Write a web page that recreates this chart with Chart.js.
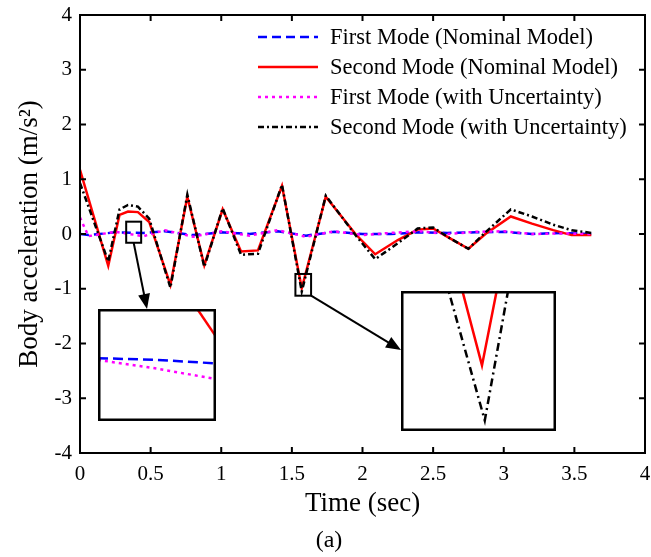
<!DOCTYPE html>
<html>
<head>
<meta charset="utf-8">
<script src="https://cdn.jsdelivr.net/npm/chart.js@4"></script>
<style>
  body { margin: 0; background: #fff; }
  #wrap { position: relative; width: 651px; height: 557px; }
  #mainBox { position: absolute; left: 0; top: 0; width: 651px; height: 557px; }
  .inset { position: absolute; background: #fff; }
</style>
</head>
<body>
<div id="wrap">
  <div id="mainBox"><canvas id="mainChart"></canvas></div>
  <div class="inset" id="insetLeftBox" style="left:98px;top:309px;width:118px;height:112px;"><canvas id="insetLeft"></canvas></div>
  <div class="inset" id="insetRightBox" style="left:401px;top:291px;width:155px;height:140px;"><canvas id="insetRight"></canvas></div>
</div>
<script>
// time grid (sec) for the second-mode responses
const secondTime = [0, 0.2, 0.28, 0.34, 0.41, 0.49, 0.64, 0.76, 0.88, 1.01, 1.14, 1.26, 1.43, 1.57, 1.74, 1.95, 2.09, 2.25, 2.39, 2.5, 2.62, 2.75, 2.87, 3.05, 3.2, 3.35, 3.48, 3.62];
const secondNominal = [1.17, -0.58, 0.35, 0.41, 0.40, 0.22, -0.93, 0.68, -0.57, 0.45, -0.32, -0.30, 0.88, -0.99, 0.68, 0.0, -0.37, -0.11, 0.08, 0.10, -0.08, -0.27, 0.0, 0.32, 0.19, 0.07, -0.02, -0.02];
const secondUncertain = [0.93, -0.50, 0.45, 0.53, 0.50, 0.28, -0.98, 0.72, -0.60, 0.47, -0.38, -0.36, 0.90, -1.05, 0.70, -0.02, -0.46, -0.17, 0.10, 0.12, -0.08, -0.27, 0.03, 0.45, 0.32, 0.17, 0.07, 0.02];

// time grid for the first-mode responses
const firstTime = [0, 0.06, 0.25, 0.45, 0.6, 0.8, 1.0, 1.2, 1.4, 1.6, 1.8, 2.0, 2.2, 2.4, 2.6, 2.8, 3.0, 3.2, 3.4, 3.62];
const firstNominal = [0.0, -0.02, 0.03, 0.02, 0.05, -0.02, 0.03, 0.0, 0.05, -0.03, 0.04, 0.0, 0.0, 0.03, 0.02, 0.03, 0.04, 0.0, 0.02, 0.0];
const firstUncertain = [0.30, -0.04, 0.04, -0.04, 0.07, -0.05, 0.05, -0.03, 0.07, -0.05, 0.05, -0.02, 0.02, 0.05, 0.0, 0.04, 0.05, 0.0, 0.01, 0.0];

const seriesLabels = ['First Mode (Nominal Model)', 'Second Mode (Nominal Model)', 'First Mode (with Uncertainty)', 'Second Mode (with Uncertainty)'];

const xTicks = { min: 0, max: 4, step: 0.5 };
const yTicks = { min: -4, max: 4, step: 1 };

// zoom windows shown in the two insets (data units)
const leftZoom = { xMin: 0.327, xMax: 0.433, yMin: -0.16, yMax: 0.225 };
const rightZoom = { xMin: 1.525, xMax: 1.636, yMin: -1.127, yMax: -0.73 };

// what the insets show
const leftInsetTime = [0.327, 0.38, 0.433];
const leftInsetBlue = [0.056, 0.05, 0.038];
const leftInsetMagenta = [0.05, 0.02, -0.016];
const leftInsetRedTime = [0.41, 0.433];
const leftInsetRed = [0.26, 0.13];
const rightInsetRedTime = [1.567, 1.583, 1.595];
const rightInsetRed = [-0.70, -0.941, -0.70];
const rightInsetBlackTime = [1.557, 1.585, 1.603];
const rightInsetBlack = [-0.70, -1.097, -0.70];

const SERIF = '"Liberation Serif", "Times New Roman", serif';

const toPoints = (xs, ys) => xs.map((x, i) => ({ x: x, y: ys[i] }));

// inset frames in page pixels (layout only)
const leftFrame = { x: 98, y: 309, w: 118, h: 112 };
const rightFrame = { x: 401, y: 291, w: 155, h: 140 };

const drawArrow = (ctx, x1, y1, x2, y2) => {
    const ang = Math.atan2(y2 - y1, x2 - x1);
    const head = 15, half = 6;
    ctx.beginPath();
    ctx.moveTo(x1, y1);
    ctx.lineTo(x2 - Math.cos(ang) * head * 0.8, y2 - Math.sin(ang) * head * 0.8);
    ctx.stroke();
    ctx.beginPath();
    ctx.moveTo(x2, y2);
    ctx.lineTo(x2 - Math.cos(ang) * head - Math.sin(ang) * half, y2 - Math.sin(ang) * head + Math.cos(ang) * half);
    ctx.lineTo(x2 - Math.cos(ang) * head + Math.sin(ang) * half, y2 - Math.sin(ang) * head - Math.cos(ang) * half);
    ctx.closePath();
    ctx.fill();
};

// frame, inward ticks, zoom boxes, arrows, legend and caption
const decorPlugin = {
    id: 'decor',
    afterDatasetsDraw(chart) {
        const { ctx, chartArea: a, scales: { x, y } } = chart;
        ctx.save();
        ctx.strokeStyle = '#000';
        ctx.fillStyle = '#000';
        ctx.lineWidth = 2;
        ctx.setLineDash([]);
        ctx.strokeRect(a.left, a.top, a.right - a.left, a.bottom - a.top);

        const tl = 6;
        ctx.beginPath();
        for (let v = xTicks.min; v <= xTicks.max + 1e-9; v += xTicks.step) {
            const px = x.getPixelForValue(v);
            ctx.moveTo(px, a.bottom); ctx.lineTo(px, a.bottom - tl);
            ctx.moveTo(px, a.top); ctx.lineTo(px, a.top + tl);
        }
        for (let v = yTicks.min; v <= yTicks.max + 1e-9; v += yTicks.step) {
            const py = y.getPixelForValue(v);
            ctx.moveTo(a.left, py); ctx.lineTo(a.left + tl, py);
            ctx.moveTo(a.right, py); ctx.lineTo(a.right - tl, py);
        }
        ctx.stroke();

        // small zoom boxes
        const boxPx = z => ({
            l: x.getPixelForValue(z.xMin), r: x.getPixelForValue(z.xMax),
            t: y.getPixelForValue(z.yMax), b: y.getPixelForValue(z.yMin)
        });
        const lb = boxPx(leftZoom), rb = boxPx(rightZoom);
        ctx.lineWidth = 2;
        ctx.strokeRect(lb.l, lb.t, lb.r - lb.l, lb.b - lb.t);
        ctx.strokeRect(rb.l, rb.t, rb.r - rb.l, rb.b - rb.t);

        drawArrow(ctx, (lb.l + lb.r) / 2, lb.b, leftFrame.x + 49, leftFrame.y);
        drawArrow(ctx, rb.r, rb.b, rightFrame.x, rightFrame.y + 59);

        // legend inside the plot
        ctx.font = '22.5px ' + SERIF;
        ctx.textBaseline = 'middle';
        ctx.textAlign = 'left';
        const rows = [37, 67, 97, 127];
        chart.data.datasets.forEach(ds => {
            const yy = rows[ds.legendRow];
            ctx.strokeStyle = ds.borderColor;
            ctx.lineWidth = ds.borderWidth;
            ctx.setLineDash(ds.borderDash || []);
            ctx.beginPath();
            ctx.moveTo(258, yy); ctx.lineTo(318, yy);
            ctx.stroke();
            ctx.setLineDash([]);
            ctx.fillStyle = '#000';
            ctx.fillText(ds.label, 330, yy + 1);
        });

        // caption
        ctx.font = '24px ' + SERIF;
        ctx.textAlign = 'center';
        ctx.fillText('(a)', 329, 541);
        ctx.restore();
    }
};

const mainCtx = document.getElementById('mainChart').getContext('2d');
const mainChart = new Chart(mainCtx, {
    type: 'line',
    data: {
        datasets: [
            { label: seriesLabels[0], legendRow: 0, data: toPoints(firstTime, firstNominal), borderColor: '#0000ff', borderWidth: 2.5, borderDash: [9, 5], order: 3 },
            { label: seriesLabels[1], legendRow: 1, data: toPoints(secondTime, secondNominal), borderColor: '#ff0000', borderWidth: 2.5, order: 2 },
            { label: seriesLabels[2], legendRow: 2, data: toPoints(firstTime, firstUncertain), borderColor: '#ff00ff', borderWidth: 2.5, borderDash: [3, 4], order: 1 },
            { label: seriesLabels[3], legendRow: 3, data: toPoints(secondTime, secondUncertain), borderColor: '#000000', borderWidth: 2.5, borderDash: [6, 3, 2, 3], order: 0 }
        ]
    },
    options: {
        responsive: true,
        maintainAspectRatio: false,
        animation: false,
        layout: { padding: { left: 0, right: 6, top: 15, bottom: 0 } },
        elements: { point: { radius: 0 }, line: { tension: 0, fill: false } },
        plugins: { legend: { display: false }, tooltip: { enabled: false } },
        scales: {
            x: {
                type: 'linear',
                min: xTicks.min, max: xTicks.max,
                grid: { display: false },
                border: { display: false },
                afterFit: s => { s.height = 104; s.paddingLeft = 0; s.paddingRight = 0; },
                ticks: { stepSize: xTicks.step, color: '#000', padding: 1, font: { family: SERIF, size: 21 }, maxRotation: 0, callback: v => String(v) },
                title: { display: true, text: 'Time (sec)', color: '#000', font: { family: SERIF, size: 27 }, padding: { top: 0, bottom: 37 } }
            },
            y: {
                type: 'linear',
                min: yTicks.min, max: yTicks.max,
                grid: { display: false },
                border: { display: false },
                afterFit: s => { s.width = 80; s.paddingTop = 0; s.paddingBottom = 0; },
                ticks: { stepSize: yTicks.step, color: '#000', padding: 0, font: { family: SERIF, size: 21 }, callback: v => String(v) },
                title: { display: true, text: 'Body acceleration (m/s²)', color: '#000', font: { family: SERIF, size: 27 }, padding: { top: 14, bottom: 0 } }
            }
        }
    },
    plugins: [decorPlugin]
});

// inset charts
const frameBox = {
    id: 'frameBox',
    beforeDraw(chart) {
        const { ctx, width, height } = chart;
        ctx.save();
        ctx.fillStyle = '#fff';
        ctx.fillRect(0, 0, width, height);
        ctx.restore();
    },
    afterDraw(chart) {
        const { ctx, width, height } = chart;
        ctx.save();
        ctx.strokeStyle = '#000';
        ctx.lineWidth = 2.5;
        ctx.strokeRect(1.25, 1.25, width - 2.5, height - 2.5);
        ctx.restore();
    }
};

const insetOptions = z => ({
    responsive: true,
    maintainAspectRatio: false,
    animation: false,
    layout: { padding: 0 },
    elements: { point: { radius: 0 }, line: { tension: 0, fill: false } },
    plugins: { legend: { display: false }, tooltip: { enabled: false } },
    scales: {
        x: { type: 'linear', display: false, min: z.xMin, max: z.xMax },
        y: { type: 'linear', display: false, min: z.yMin, max: z.yMax }
    }
});

new Chart(document.getElementById('insetLeft').getContext('2d'), {
    type: 'line',
    data: {
        datasets: [
            { data: toPoints(leftInsetTime, leftInsetBlue), borderColor: '#0000ff', borderWidth: 2.5, borderDash: [10, 5] },
            { data: toPoints(leftInsetTime, leftInsetMagenta), borderColor: '#ff00ff', borderWidth: 2.5, borderDash: [3, 4] },
            { data: toPoints(leftInsetRedTime, leftInsetRed), borderColor: '#ff0000', borderWidth: 2.5 }
        ]
    },
    options: insetOptions(leftZoom),
    plugins: [frameBox]
});

new Chart(document.getElementById('insetRight').getContext('2d'), {
    type: 'line',
    data: {
        datasets: [
            { data: toPoints(rightInsetRedTime, rightInsetRed), borderColor: '#ff0000', borderWidth: 2.5 },
            { data: toPoints(rightInsetBlackTime, rightInsetBlack), borderColor: '#000000', borderWidth: 2.5, borderDash: [8, 4, 2, 4] }
        ]
    },
    options: insetOptions(rightZoom),
    plugins: [frameBox]
});
</script>
</body>
</html>
